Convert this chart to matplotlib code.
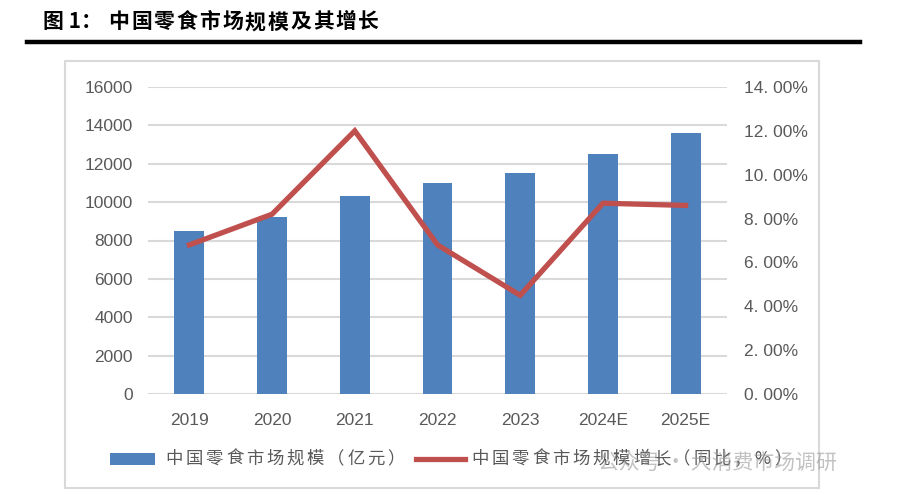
import numpy as np
import matplotlib.pyplot as plt
from matplotlib.patches import Rectangle
from matplotlib.lines import Line2D
from matplotlib.ticker import FuncFormatter

plt.rcParams['font.family'] = ['Liberation Sans', 'Noto Sans CJK SC', 'DejaVu Sans']
cjk = ['Noto Sans CJK SC', 'DejaVu Sans']

# data
years = ['2019', '2020', '2021', '2022', '2023', '2024E', '2025E']
market_size = [8500, 9200, 10300, 11000, 11500, 12500, 13600]   # 亿元
growth = [6.8, 8.2, 12.0, 6.8, 4.5, 8.7, 8.6]                   # %

title_head = '图 1：'
title_body = '中国零食市场规模及其增长'
bar_label = '中国零食市场规模（亿元）'
line_label = '中国零食市场规模增长（同比，%）'

blue = '#4f81bd'
red = '#c0504d'
grid_c = '#d9d9d9'
tick_c = '#595959'

fig = plt.figure(figsize=(9, 4.99), dpi=100)
W, H = 900, 499

def fx(px):
    return px / W

def fy(py):
    return 1 - py / H

def spaced(s, x0, y, pitch, **kw):
    # the reference text has wide letter spacing, so place glyph by glyph
    for i, ch in enumerate(s):
        fig.text(fx(x0 + i * pitch), fy(y), ch, ha='center', va='center', **kw)

# title and black rule
fig.text(fx(43), fy(22), title_head, family=cjk, fontsize=15, fontweight='bold',
         va='center', ha='left', color='black')
spaced(title_body, 119, 22, 22.7, family=cjk, fontsize=15, fontweight='bold', color='black')
fig.add_artist(Line2D([fx(27), fx(860)], [fy(42), fy(42)], color='black', lw=3.2))

# light frame around the chart
fig.add_artist(Rectangle((fx(65), fy(488)), fx(819) - fx(65), fy(61) - fy(488),
                         fill=False, edgecolor=grid_c, lw=1.5))

ax = fig.add_axes([fx(148), fy(394), fx(727) - fx(148), fy(87) - fy(394)])
x = np.arange(len(years))
ax.bar(x, market_size, width=0.36, color=blue, zorder=2)
ax.set_xlim(-0.5, len(years) - 0.5)
ax.set_ylim(0, 16000)
ax.set_yticks(np.arange(0, 16001, 2000))
ax.yaxis.grid(True, color=grid_c, lw=1.5, zorder=0)
ax.set_axisbelow(True)
for s in ax.spines.values():
    s.set_visible(False)
ax.set_xticks(x)
ax.set_xticklabels(years)
ax.tick_params(axis='both', length=0, colors=tick_c, labelsize=12.5)
ax.tick_params(axis='y', pad=11)
ax.tick_params(axis='x', pad=14)

ax2 = ax.twinx()
ax2.plot(x, growth, color=red, lw=3.8, solid_joinstyle='miter', zorder=3)
ax2.set_ylim(0, 14)
ax2.set_yticks(np.arange(0, 14.1, 2))
ax2.yaxis.set_major_formatter(FuncFormatter(lambda v, p: '%d. 00%%' % v))
for s in ax2.spines.values():
    s.set_visible(False)
ax2.tick_params(axis='y', length=0, colors=tick_c, labelsize=12.5, pad=12)

# legend drawn by hand to match spacing
ly = 459
fig.add_artist(Rectangle((fx(110), fy(ly) - 0.012), fx(45), 0.024, color=blue, lw=0))
spaced(bar_label, 174, ly, 20.2, family=cjk, fontsize=12.5, fontweight='light', color=tick_c)
fig.add_artist(Line2D([fx(416), fx(465)], [fy(ly), fy(ly)], color=red, lw=3.8))
spaced(line_label, 480, ly, 20.2, family=cjk, fontsize=12.5, fontweight='light', color=tick_c)

# watermark
fig.text(fx(598), fy(463), '公众号 · 大消费市场调研', family=cjk, fontsize=15,
         color='#9a9a9a', alpha=0.6, va='center', ha='left')

fig.savefig('out.png', dpi=100)
